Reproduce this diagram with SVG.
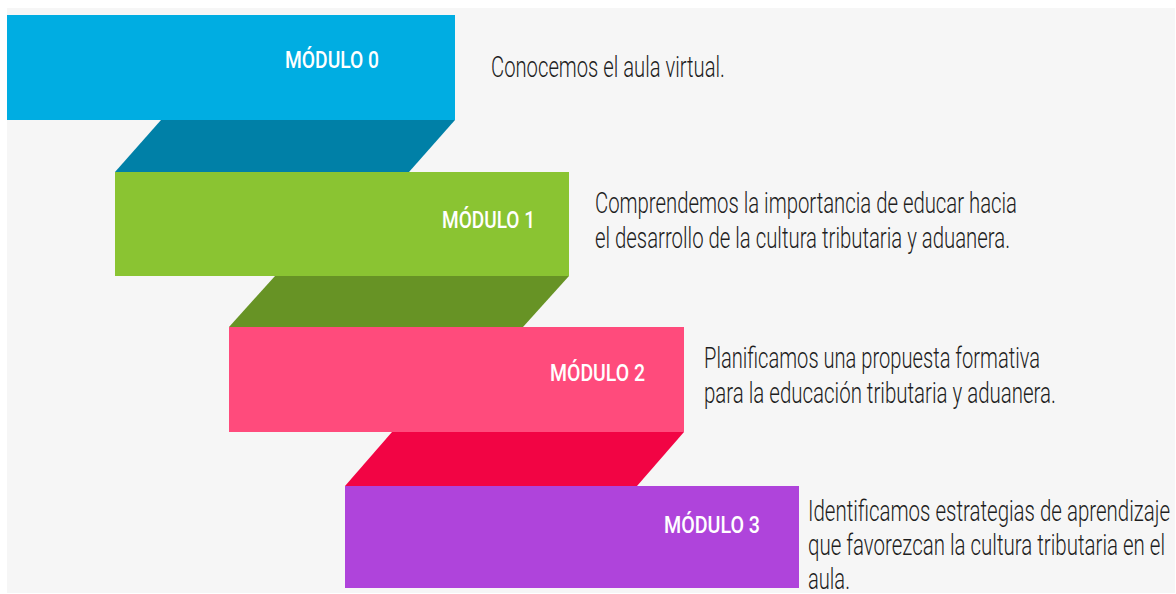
<svg xmlns="http://www.w3.org/2000/svg" width="1176" height="594" viewBox="0 0 1176 594">
  <style>
    .lbl { font-family: Roboto, "Liberation Sans", sans-serif; font-size: 23px; font-weight: 500; fill: #ffffff; }
    .desc { font-family: Roboto, "Liberation Sans", sans-serif; font-size: 30px; font-weight: 300; fill: #1e1e1e; }
  </style>
  <rect x="0" y="0" width="1176" height="594" fill="#ffffff"/>
  <rect x="7" y="8" width="1168" height="585" fill="#f6f6f6"/>

  <g id="connectors">
    <polygon points="161,120 455,120 409,172 115,172" fill="#0080a7"/>
    <polygon points="275,276 569,276 523,327 229,327" fill="#679325"/>
    <polygon points="392,432 684,432 637,486 345,486" fill="#f20444"/>
  </g>

  <g id="modulo0">
    <rect x="7" y="15" width="448" height="105" fill="#00ade2"/>
    <text class="lbl" x="285" y="68" textLength="94" lengthAdjust="spacingAndGlyphs">MÓDULO 0</text>
    <g transform="translate(491,77) scale(0.66,1)">
      <text class="desc" x="0" y="0" textLength="354.5" lengthAdjust="spacingAndGlyphs">Conocemos el aula virtual.</text>
    </g>
  </g>

  <g id="modulo1">
    <rect x="115" y="172" width="454" height="104" fill="#8ac432"/>
    <text class="lbl" x="442" y="228" textLength="93" lengthAdjust="spacingAndGlyphs">MÓDULO 1</text>
    <g transform="translate(595,213) scale(0.66,1)">
      <text class="desc" x="0" y="0" textLength="639.4" lengthAdjust="spacingAndGlyphs">Comprendemos la importancia de educar hacia</text>
    </g>
    <g transform="translate(595,248) scale(0.66,1)">
      <text class="desc" x="0" y="0" textLength="628.8" lengthAdjust="spacingAndGlyphs">el desarrollo de la cultura tributaria y aduanera.</text>
    </g>
  </g>

  <g id="modulo2">
    <rect x="229" y="327" width="455" height="105" fill="#ff4b7c"/>
    <text class="lbl" x="550" y="381" textLength="95" lengthAdjust="spacingAndGlyphs">MÓDULO 2</text>
    <g transform="translate(704,368) scale(0.66,1)">
      <text class="desc" x="0" y="0" textLength="509.1" lengthAdjust="spacingAndGlyphs">Planificamos una propuesta formativa</text>
    </g>
    <g transform="translate(704,403) scale(0.66,1)">
      <text class="desc" x="0" y="0" textLength="533.3" lengthAdjust="spacingAndGlyphs">para la educación tributaria y aduanera.</text>
    </g>
  </g>

  <g id="modulo3">
    <rect x="345" y="486" width="454" height="102" fill="#af44db"/>
    <text class="lbl" x="664" y="533" textLength="96" lengthAdjust="spacingAndGlyphs">MÓDULO 3</text>
    <g transform="translate(808,521) scale(0.66,1)">
      <text class="desc" x="0" y="0" textLength="548.5" lengthAdjust="spacingAndGlyphs">Identificamos estrategias de aprendizaje</text>
    </g>
    <g transform="translate(808,555) scale(0.66,1)">
      <text class="desc" x="0" y="0" textLength="540.9" lengthAdjust="spacingAndGlyphs">que favorezcan la cultura tributaria en el</text>
    </g>
    <g transform="translate(808,589) scale(0.66,1)">
      <text class="desc" x="0" y="0" textLength="63.6" lengthAdjust="spacingAndGlyphs">aula.</text>
    </g>
  </g>
</svg>
